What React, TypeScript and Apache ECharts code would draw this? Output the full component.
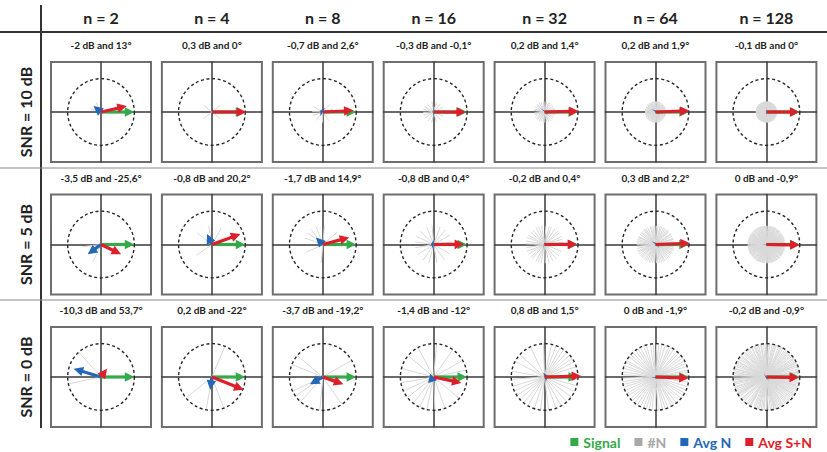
import React, { useEffect, useRef } from "react";
import * as echarts from "echarts";

// ---------- data ----------
const columnLabels = ["n = 2", "n = 4", "n = 8", "n = 16", "n = 32", "n = 64", "n = 128"];
const rowLabels = ["SNR = 10 dB", "SNR = 5 dB", "SNR = 0 dB"];
const snrDb = [10, 5, 0];
const signalVector = [1, 0];

// averaged S+N: gain (dB) and phase (degrees) per column
const gainDb10 = [-2, 0.3, -0.7, -0.3, 0.2, 0.2, -0.1];
const phaseDeg10 = [13, 0, 2.6, -0.1, 1.4, 1.9, 0];
const gainDb5 = [-3.5, -0.8, -1.7, -0.8, -0.2, 0.3, 0];
const phaseDeg5 = [-25.6, 20.2, 14.9, 0.4, 0.4, 2.2, -0.9];
const gainDb0 = [-10.3, 0.2, -3.7, -1.4, 0.8, 0, -0.2];
const phaseDeg0 = [53.7, -22, -19.2, -12, 1.5, -1.9, -0.9];

// noise realisation phases (degrees), SNR = 10 dB
const noise10_n2 = [118, 165];
const noise10_n4 = [38, 140, 218, 322];
const noise10_n8 = [15, 48, 150, 178, 200, 232, 268, 305];
const noise10_n16 = [5, 28, 50, 75, 100, 128, 150, 165, 182, 198, 215, 238, 260, 285, 310, 335];
const noise10_n32 = [3, 14, 22, 35, 47, 58, 66, 79, 88, 97, 110, 121, 133, 140, 152, 163, 171, 186, 195, 207, 219, 226, 238, 249, 262, 271, 283, 294, 306, 318, 331, 347];
const noise10_n64 = [2, 8, 13, 21, 25, 31, 38, 43, 49, 54, 61, 67, 72, 78, 84, 90, 95, 101, 108, 114, 119, 124, 131, 137, 142, 149, 153, 160, 166, 172, 177, 183, 189, 196, 201, 206, 212, 219, 224, 230, 235, 241, 247, 253, 258, 265, 270, 276, 281, 288, 293, 298, 304, 311, 316, 321, 327, 332, 339, 344, 349, 353, 356, 359];
const noise10_n128 = [
  1, 4, 5, 9, 12, 15, 16, 20, 24, 25, 29, 31, 35, 38, 40, 43,
  46, 47, 51, 55, 57, 60, 62, 66, 69, 70, 74, 78, 79, 83, 86, 88,
  92, 94, 97, 101, 102, 106, 109, 111, 114, 118, 120, 123, 125, 129, 132, 134,
  138, 141, 142, 146, 149, 152, 154, 157, 161, 163, 166, 168, 172, 175, 177, 179,
  183, 186, 188, 191, 195, 196, 200, 203, 205, 208, 212, 214, 217, 219, 223, 226,
  228, 232, 235, 237, 240, 244, 245, 249, 252, 254, 258, 260, 263, 267, 268, 272,
  275, 277, 281, 284, 286, 289, 293, 294, 298, 301, 303, 307, 309, 312, 316, 318,
  321, 324, 327, 329, 333, 336, 338, 341, 345, 346, 350, 353, 355, 358, 8, 264,
];

// SNR = 5 dB
const noise5_n2 = [187, 245];
const noise5_n4 = [60, 100, 142, 215];
const noise5_n8 = [40, 85, 110, 128, 142, 160, 205, 265];
const noise5_n16 = [8, 30, 52, 70, 95, 112, 135, 155, 172, 190, 212, 236, 255, 280, 305, 330];
const noise5_n32 = [6, 17, 25, 38, 45, 57, 69, 76, 86, 99, 108, 117, 129, 138, 150, 158, 169, 178, 190, 201, 211, 222, 229, 243, 251, 259, 272, 284, 297, 309, 322, 338];
const noise5_n64 = [4, 9, 16, 19, 27, 33, 36, 44, 48, 53, 59, 64, 71, 75, 82, 87, 92, 98, 104, 107, 115, 121, 126, 129, 136, 141, 147, 155, 158, 164, 169, 175, 181, 186, 192, 199, 203, 209, 216, 221, 226, 233, 238, 244, 250, 255, 261, 267, 273, 278, 284, 290, 296, 300, 307, 313, 318, 324, 330, 335, 341, 346, 352, 357];
const noise5_n128 = [
  2, 5, 7, 11, 13, 17, 19, 23, 26, 28, 32, 34, 37, 41, 44, 47,
  49, 52, 54, 58, 61, 63, 67, 71, 72, 76, 79, 81, 85, 89, 91, 93,
  96, 100, 103, 105, 108, 111, 113, 117, 119, 122, 126, 128, 131, 133, 136, 140,
  143, 145, 148, 150, 153, 156, 159, 162, 164, 167, 170, 173, 176, 178, 181, 184,
  187, 189, 192, 194, 198, 201, 204, 206, 209, 211, 215, 218, 220, 224, 227, 229,
  231, 234, 238, 241, 243, 246, 248, 251, 255, 257, 259, 262, 265, 269, 271, 274,
  276, 279, 282, 285, 287, 290, 292, 296, 299, 302, 304, 306, 310, 313, 315, 319,
  322, 325, 327, 330, 332, 335, 339, 342, 344, 347, 349, 352, 354, 356, 359, 64,
];

// SNR = 0 dB
const noise0_n2 = [132, 192];
const noise0_n4 = [67, 219, 260, 291];
const noise0_n8 = [30, 140, 158, 205, 215, 228, 265, 305];
const noise0_n16 = [12, 30, 55, 85, 118, 140, 165, 190, 205, 218, 232, 245, 258, 272, 290, 320];
const noise0_n32 = [5, 18, 27, 34, 41, 48, 55, 62, 70, 78, 92, 115, 138, 152, 170, 184, 196, 205, 214, 222, 231, 240, 252, 263, 277, 290, 300, 312, 323, 334, 345, 355];
const noise0_n64 = [3, 8, 12, 19, 24, 29, 35, 40, 46, 50, 57, 62, 66, 73, 79, 84, 88, 94, 99, 106, 111, 117, 122, 127, 133, 138, 143, 150, 154, 160, 165, 171, 176, 182, 188, 193, 198, 204, 210, 215, 221, 226, 231, 237, 243, 249, 254, 259, 264, 270, 275, 282, 287, 292, 299, 303, 309, 315, 320, 326, 331, 337, 343, 351];
const noise0_n128 = [
  0, 2, 6, 8, 10, 14, 18, 21, 22, 27, 30, 33, 35, 39, 42, 45,
  48, 50, 53, 56, 60, 63, 65, 68, 73, 74, 77, 80, 84, 87, 90, 92,
  95, 99, 100, 104, 107, 110, 112, 116, 121, 124, 127, 130, 132, 135, 139, 141,
  144, 147, 151, 152, 155, 158, 161, 165, 166, 169, 172, 174, 177, 180, 183, 185,
  188, 190, 193, 197, 199, 202, 205, 208, 210, 213, 216, 221, 222, 225, 228, 233,
  236, 239, 240, 242, 247, 250, 253, 256, 258, 261, 264, 266, 270, 273, 277, 280,
  283, 284, 288, 291, 294, 297, 300, 301, 305, 308, 311, 314, 317, 320, 323, 326,
  328, 331, 334, 337, 340, 343, 345, 348, 351, 354, 357, 359, 25, 117, 211, 286,
];

const gainRows = [gainDb10, gainDb5, gainDb0];
const phaseRows = [phaseDeg10, phaseDeg5, phaseDeg0];
const noiseRows = [
  [noise10_n2, noise10_n4, noise10_n8, noise10_n16, noise10_n32, noise10_n64, noise10_n128],
  [noise5_n2, noise5_n4, noise5_n8, noise5_n16, noise5_n32, noise5_n64, noise5_n128],
  [noise0_n2, noise0_n4, noise0_n8, noise0_n16, noise0_n32, noise0_n64, noise0_n128],
];

// ---------- style ----------
const GREEN = "#35a84a";
const BLUE = "#2367b5";
const RED = "#dc1f2b";
const GREY_LEGEND = "#a8a8a8";
const NOISE_COLOR = "#d9d9d9";
const FONT = "Lato, 'Open Sans', sans-serif";

const COL_LEFT = 51;
const COL_STEP = 110.9;
const ROW_TOP = 62;
const ROW_STEP = 132.5;
const BOX = 100;

const fmt = (v: number) => String(v).replace(".", ",");
const rad = (d: number) => (d * Math.PI) / 180;

const arrowRenderer = (color: string) => (params: any, api: any) => {
  const p0 = api.coord([0, 0]);
  const p1 = api.coord([api.value(0), api.value(1)]);
  const dx = p1[0] - p0[0];
  const dy = p1[1] - p0[1];
  const len = Math.hypot(dx, dy);
  if (len < 0.3) return null;
  const ux = dx / len;
  const uy = dy / len;
  const head = Math.min(9.5, len);
  const hw = 4.8;
  const bx = p1[0] - ux * head;
  const by = p1[1] - uy * head;
  const children: any[] = [];
  if (len > head) {
    children.push({
      type: "line",
      shape: { x1: p0[0], y1: p0[1], x2: bx + ux, y2: by + uy },
      style: { stroke: color, lineWidth: 3.2 },
    });
  }
  children.push({
    type: "polygon",
    shape: {
      points: [
        [p1[0], p1[1]],
        [bx - uy * hw, by + ux * hw],
        [bx + uy * hw, by - ux * hw],
      ],
    },
    style: { fill: color },
  });
  return { type: "group", children };
};

const noiseRenderer = (params: any, api: any) => {
  const p0 = api.coord([0, 0]);
  const p1 = api.coord([api.value(0), api.value(1)]);
  return {
    type: "line",
    shape: { x1: p0[0], y1: p0[1], x2: p1[0], y2: p1[1] },
    style: { stroke: NOISE_COLOR, lineWidth: 1 },
  };
};

const circleRenderer = (params: any, api: any) => {
  const c = api.coord([0, 0]);
  const r = api.size([api.value(0), 0])[0];
  return {
    type: "circle",
    shape: { cx: c[0], cy: c[1], r },
    style: { fill: "none", stroke: "#262626", lineWidth: 1.4, lineDash: [3, 2.6] },
  };
};

export default function App() {
  const ref = useRef<HTMLDivElement>(null);

  useEffect(() => {
    const chart = echarts.init(ref.current!, null, { renderer: "svg" });
    const grid: any[] = [];
    const xAxis: any[] = [];
    const yAxis: any[] = [];
    const series: any[] = [];
    const graphic: any[] = [];

    const axisBase = {
      type: "value",
      min: -1.5,
      max: 1.5,
      axisLine: { onZero: true, lineStyle: { color: "#3a3a3a", width: 1.5 } },
      axisTick: { show: false },
      axisLabel: { show: false },
      splitLine: { show: false },
    };

    rowLabels.forEach((rowLabel, r) => {
      const amp = Math.pow(10, -snrDb[r] / 20);
      columnLabels.forEach((colLabel, c) => {
        const gi = r * columnLabels.length + c;
        const left = COL_LEFT + c * COL_STEP;
        const top = ROW_TOP + r * ROW_STEP;
        grid.push({
          left,
          top,
          width: BOX,
          height: BOX,
          show: true,
          borderColor: "#6e6e6e",
          borderWidth: 2,
          backgroundColor: "transparent",
        });
        xAxis.push({ ...axisBase, gridIndex: gi });
        yAxis.push({ ...axisBase, gridIndex: gi });

        const g = gainRows[r][c];
        const ph = phaseRows[r][c];
        const mag = Math.pow(10, g / 20);
        const sn = [mag * Math.cos(rad(ph)), mag * Math.sin(rad(ph))];
        const avgN = [sn[0] - signalVector[0], sn[1] - signalVector[1]];
        const noise = noiseRows[r][c].map((a) => [amp * Math.cos(rad(a)), amp * Math.sin(rad(a))]);

        const common = { xAxisIndex: gi, yAxisIndex: gi, silent: true, animation: false };
        series.push({ ...common, type: "custom", name: "#N", data: noise, renderItem: noiseRenderer, itemStyle: { color: GREY_LEGEND }, z: 2 });
        series.push({ ...common, type: "custom", data: [[signalVector[0], 0]], renderItem: circleRenderer, z: 3 });
        series.push({ ...common, type: "custom", name: "Signal", data: [signalVector], renderItem: arrowRenderer(GREEN), itemStyle: { color: GREEN }, z: 4 });
        series.push({ ...common, type: "custom", name: "Avg N", data: [avgN], renderItem: arrowRenderer(BLUE), itemStyle: { color: BLUE }, z: 5 });
        series.push({ ...common, type: "custom", name: "Avg S+N", data: [sn], renderItem: arrowRenderer(RED), itemStyle: { color: RED }, z: 6 });

        graphic.push({
          type: "text",
          x: left + BOX / 2,
          y: top - 17,
          style: {
            text: `${fmt(g)} dB and ${fmt(ph)}°`,
            fill: "#222",
            font: `bold 10px ${FONT}`,
            align: "center",
            verticalAlign: "middle",
            textAlign: "center",
            textVerticalAlign: "middle",
          },
        });
      });

      graphic.push({
        type: "text",
        x: 25,
        y: ROW_TOP + r * ROW_STEP + BOX / 2,
        rotation: Math.PI / 2,
        style: {
          text: rowLabel,
          fill: "#222",
          font: `bold 16px ${FONT}`,
          align: "center",
          verticalAlign: "middle",
          textAlign: "center",
          textVerticalAlign: "middle",
        },
      });
    });

    columnLabels.forEach((lab, c) => {
      graphic.push({
        type: "text",
        x: COL_LEFT + c * COL_STEP + BOX / 2,
        y: 17,
        style: {
          text: lab,
          fill: "#222",
          font: `bold 16px ${FONT}`,
          align: "center",
          verticalAlign: "middle",
          textAlign: "center",
          textVerticalAlign: "middle",
        },
      });
    });

    graphic.push({ type: "line", shape: { x1: 0, y1: 32, x2: 827, y2: 32 }, style: { stroke: "#333", lineWidth: 2 } });
    graphic.push({ type: "line", shape: { x1: 41, y1: 5, x2: 41, y2: 428 }, style: { stroke: "#333", lineWidth: 2 } });
    graphic.push({ type: "line", shape: { x1: 0, y1: 168, x2: 827, y2: 168 }, style: { stroke: "#8a8a8a", lineWidth: 1 } });
    graphic.push({ type: "line", shape: { x1: 0, y1: 300, x2: 827, y2: 300 }, style: { stroke: "#8a8a8a", lineWidth: 1 } });

    chart.setOption({
      animation: false,
      grid,
      xAxis,
      yAxis,
      series,
      graphic,
      legend: {
        selectedMode: false,
        right: 10,
        top: 430,
        icon: "rect",
        itemWidth: 8,
        itemHeight: 8,
        itemGap: 14,
        textStyle: { fontFamily: FONT, fontWeight: "bold", fontSize: 14 },
        data: [
          { name: "Signal", textStyle: { color: GREEN } },
          { name: "#N", textStyle: { color: GREY_LEGEND } },
          { name: "Avg N", textStyle: { color: BLUE } },
          { name: "Avg S+N", textStyle: { color: RED } },
        ],
      },
    });
    return () => chart.dispose();
  }, []);

  return (
    <div
      ref={ref}
      style={{ position: "fixed", left: 0, top: 0, width: 827, height: 452, background: "#fff" }}
    />
  );
}
